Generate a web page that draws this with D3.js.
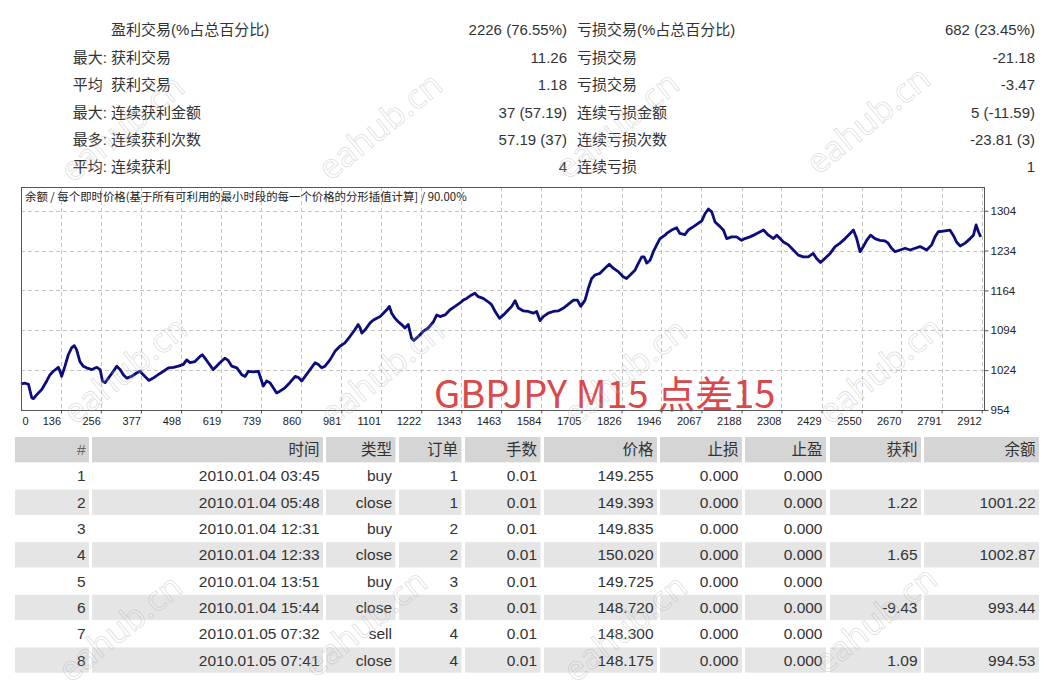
<!DOCTYPE html>
<html><head><meta charset="utf-8">
<script src="https://cdn.jsdelivr.net/npm/d3@7/dist/d3.min.js"></script>
<style>
html,body{margin:0;padding:0;background:#fff;}
svg{display:block;}
</style></head><body>
<svg id="c" width="1057" height="681"></svg>
<script>
// ---------------- data ----------------
const statPrefix    = ["", "最大:", "平均\u00a0", "最大:", "最多:", "平均:"];
const statWinLabel  = ["盈利交易(%占总百分比)", "获利交易", "获利交易", "连续获利金额", "连续获利次数", "连续获利"];
const statWinValue  = ["2226 (76.55%)", "11.26", "1.18", "37 (57.19)", "57.19 (37)", "4"];
const statLossLabel = ["亏损交易(%占总百分比)", "亏损交易", "亏损交易", "连续亏损金额", "连续亏损次数", "连续亏损"];
const statLossValue = ["682 (23.45%)", "-21.18", "-3.47", "5 (-11.59)", "-23.81 (3)", "1"];

const chartTitle = "余额 / 每个即时价格(基于所有可利用的最小时段的每一个价格的分形插值计算] / 90.00%";
const chartNote  = "GBPJPY M15 点差15";
const xTickLabels = [0,136,256,377,498,619,739,860,981,1101,1222,1343,1463,1584,1705,1826,1946,2067,2188,2308,2429,2550,2670,2791,2912];
const yTickLabels = [954,1024,1094,1164,1234,1304];
const xDomain = [15.4, 2918.8];
const yDomain = [954, 1345.6];

const tradeIndex = [15,28,38,43,48,53,63,78,93,103,113,128,133,138,148,158,168,176,183,193,203,213,229,244,254,261,269,279,294,304,314,324,334,349,364,374,384,394,401,414,429,445,460,475,490,505,515,525,540,555,562,570,580,595,605,615,630,640,651,666,681,691,701,716,731,741,746,756,766,776,786,796,811,826,842,852,862,872,887,902,912,922,932,947,962,977,
992,1007,1022,1032,1038,1043,1053,1068,1078,1088,1098,1108,1118,1126,1133,1143,1153,1163,1173,1183,1193,1200,1213,1228,1243,1259,1269,1279,1294,1309,1324,1339,1349,1359,1374,1384,1394,1409,1424,1434,1445,1458,1470,1485,1495,1505,1515,1530,1545,1560,1570,1580,1590,1605,1620,1635,1651,1666,1681,1693,1703,1716,1726,1736,1746,1761,1776,1789,1801,1816,1831,1841,1852,1867,1877,1887,1894,1902,1912,1922,1932,1942,1957,
1962,1977,1992,2002,2017,2027,2043,2058,2068,2078,2088,2098,2108,2123,2133,2143,2158,2173,2188,2198,2213,2228,2244,2254,2269,2284,2294,2304,2314,2329,2344,2359,2374,2389,2404,2414,2426,2439,2455,2470,2485,2500,2515,2525,2535,2545,2555,2565,2577,2590,2605,2620,2630,2640,2651,2666,2681,2696,2711,2726,2736,2746,2761,2771,2781,2796,2816,2826,2836,2847,2862,2877,2887,2895,2902,2909];
const balance = [1000,1001,999,987,975,974,981,990,1005,1016,1022,1029,1022,1013,1031,1051,1063,1067,1060,1039,1031,1028,1025,1029,1025,1005,1002,1010,1022,1031,1025,1016,1010,1013,1019,1022,1016,1010,1006,1010,1016,1022,1028,1029,1031,1034,1042,1037,1039,1048,1051,1045,1037,1025,1031,1037,1045,1041,1031,1028,1016,1013,1022,1021,1022,1005,996,1005,1002,993,984,987,993,1002,1013,1011,1005,1013,1025,1037,1034,1028,1031,1042,1057,1066,
1072,1083,1095,1104,1098,1089,1095,1107,1112,1115,1118,1124,1130,1136,1124,1115,1109,1104,1098,1104,1080,1076,1083,1092,1098,1109,1121,1118,1121,1130,1136,1142,1147,1150,1156,1159,1153,1150,1144,1139,1127,1115,1121,1130,1136,1146,1133,1128,1127,1124,1127,1111,1118,1124,1127,1128,1133,1140,1147,1147,1136,1147,1168,1185,1191,1194,1203,1210,1203,1197,1188,1185,1191,1200,1212,1223,1223,1212,1217,1232,1244,1255,1261,
1264,1270,1274,1264,1262,1270,1276,1282,1286,1299,1307,1302,1284,1276,1270,1255,1258,1258,1252,1255,1258,1262,1267,1270,1261,1255,1261,1255,1249,1244,1235,1226,1223,1223,1229,1220,1213,1220,1229,1241,1247,1255,1264,1270,1255,1232,1241,1252,1261,1255,1252,1251,1247,1238,1232,1235,1238,1235,1238,1241,1238,1235,1244,1258,1267,1268,1270,1261,1249,1242,1247,1255,1261,1279,1267,1258];

const tableHeaders = ["#","时间","类型","订单","手数","价格","止损","止盈","获利","余额"];
const rowNo      = ["1","2","3","4","5","6","7","8"];
const rowTime    = ["2010.01.04 03:45","2010.01.04 05:48","2010.01.04 12:31","2010.01.04 12:33","2010.01.04 13:51","2010.01.04 15:44","2010.01.05 07:32","2010.01.05 07:41"];
const rowType    = ["buy","close","buy","close","buy","close","sell","close"];
const rowOrder   = ["1","1","2","2","3","3","4","4"];
const rowLots    = ["0.01","0.01","0.01","0.01","0.01","0.01","0.01","0.01"];
const rowPrice   = ["149.255","149.393","149.835","150.020","149.725","148.720","148.300","148.175"];
const rowSL      = ["0.000","0.000","0.000","0.000","0.000","0.000","0.000","0.000"];
const rowTP      = ["0.000","0.000","0.000","0.000","0.000","0.000","0.000","0.000"];
const rowProfit  = ["","1.22","","1.65","","-9.43","","1.09"];
const rowBalance = ["","1001.22","","1002.87","","993.44","","994.53"];

const watermarkText = "eahub.cn";

// ---------------- drawing ----------------
const FONT = "'Liberation Sans','Noto Sans CJK SC',sans-serif";
const svg = d3.select("#c");
svg.append("rect").attr("width",1057).attr("height",681).attr("fill","#fff");

// top statistics block
const stats = d3.range(statPrefix.length).map(i => ({
  p: statPrefix[i], a: statWinLabel[i], b: statWinValue[i], c: statLossLabel[i], d: statLossValue[i]
}));
const rowY = d3.scaleLinear().domain([0, 5]).range([30, 167]);
const sg = svg.append("g").attr("font-family", FONT).attr("font-size", 15).attr("fill", "#333");
const sr = sg.selectAll("g").data(stats).join("g")
  .attr("transform", (d,i) => `translate(0,${rowY(i) + 5.3})`);
sr.append("text").attr("x", 107).attr("text-anchor","end").text(d => d.p);
sr.append("text").attr("x", 111).text(d => d.a);
sr.append("text").attr("x", 567).attr("text-anchor","end").text(d => d.b);
sr.append("text").attr("x", 577).text(d => d.c);
sr.append("text").attr("x", 1035).attr("text-anchor","end").text(d => d.d);

// chart
const P = {l:21, r:984, t:187, b:410};
const x = d3.scaleLinear().domain(xDomain).range([P.l, P.r]);
const y = d3.scaleLinear().domain(yDomain).range([P.b, P.t]);

const cg = svg.append("g");
// gridlines
cg.append("g").selectAll("line").data(xTickLabels.filter(v => x(v) > P.l + 1)).join("line")
  .attr("x1", d => Math.round(x(d)) + 0.5).attr("x2", d => Math.round(x(d)) + 0.5)
  .attr("y1", P.t).attr("y2", P.b)
  .attr("stroke", "#c4c4c4").attr("stroke-dasharray", "4,3");
cg.append("g").selectAll("line").data(yTickLabels.filter(v => y(v) < P.b - 1)).join("line")
  .attr("y1", d => Math.round(y(d)) + 0.5).attr("y2", d => Math.round(y(d)) + 0.5)
  .attr("x1", P.l).attr("x2", P.r)
  .attr("stroke", "#c4c4c4").attr("stroke-dasharray", "4,3");

// title inside the plot
cg.append("text").attr("x", P.l + 4).attr("y", P.t + 14)
  .attr("font-family", "'Noto Sans CJK SC',sans-serif").attr("font-size", 11.4)
  .attr("fill", "#222").text(chartTitle);

// red annotation
cg.append("text").attr("x", 434).attr("y", 407.5)
  .attr("font-family", "'Noto Sans CJK SC','Noto Sans',sans-serif").attr("font-size", 38)
  .attr("fill", "#d9484b").text(chartNote);

// balance line
const pts = tradeIndex.map((t, i) => [t, balance[i]]);
cg.append("path").datum(pts)
  .attr("fill", "none").attr("stroke", "#0c0c7c").attr("stroke-width", 2.8)
  .attr("stroke-linejoin", "round")
  .attr("d", d3.line().x(d => x(d[0])).y(d => y(d[1])));

// frame
cg.append("rect").attr("x", P.l + 0.5).attr("y", P.t + 0.5)
  .attr("width", P.r - P.l).attr("height", P.b - P.t)
  .attr("fill", "none").attr("stroke", "#555");

// bottom axis
const xa = cg.append("g").attr("transform", `translate(0,${P.b + 0.5})`)
  .call(d3.axisBottom(x).tickValues(xTickLabels).tickSize(3).tickSizeOuter(0).tickFormat(d3.format("d")));
xa.select(".domain").remove();
xa.selectAll(".tick line").attr("stroke", "#555");
xa.selectAll(".tick text").attr("font-family", FONT).attr("font-size", 11).attr("fill", "#222")
  .attr("text-anchor", "end").attr("x", -0.5).attr("y", 6.5);
xa.selectAll(".tick").filter(d => x(d) < P.l).each(function(d) {
  const g = d3.select(this);
  g.select("line").remove();
  g.select("text").attr("text-anchor", "start").attr("x", P.l + 1 - x(d));
});

// right axis
const ya = cg.append("g").attr("transform", `translate(${P.r + 0.5},0)`)
  .call(d3.axisRight(y).tickValues(yTickLabels).tickSize(4).tickSizeOuter(0).tickFormat(d3.format("d")));
ya.select(".domain").remove();
ya.selectAll(".tick line").attr("stroke", "#555");
ya.selectAll(".tick text").attr("font-family", FONT).attr("font-size", 11.5).attr("fill", "#222")
  .attr("x", 6);

// table
const cols = [[15,89],[92,323],[326,395.5],[399,461.5],[465,540.5],[544,657],[660,742],[745,826],[830,921],[924,1039]];
const rows = d3.range(rowNo.length).map(i => [rowNo[i], rowTime[i], rowType[i], rowOrder[i], rowLots[i], rowPrice[i], rowSL[i], rowTP[i], rowProfit[i], rowBalance[i]]);
const allRows = [tableHeaders].concat(rows);
const tY = d3.scaleLinear().domain([0, 1]).range([437, 463.3]);
const tg = svg.append("g").attr("font-family", FONT).attr("font-size", 15.5).attr("fill", "#333");
const tr = tg.selectAll("g").data(allRows).join("g")
  .attr("transform", (d,i) => `translate(0,${tY(i)})`);
tr.filter((d,i) => i === 0 || i % 2 === 0).selectAll("rect").data(cols).join("rect")
  .attr("x", c => c[0]).attr("width", c => c[1] - c[0]).attr("y", 0).attr("height", 25.3)
  .attr("fill", function() { return d3.select(this.parentNode).datum() === tableHeaders ? "#d5d5d5" : "#e5e5e5"; });
tr.selectAll("text").data(d => d.map((v, j) => ({v, j}))).join("text")
  .attr("x", d => cols[d.j][1] - 3.5).attr("y", 18.2)
  .attr("text-anchor", "end")
  .attr("fill", function(d) { return (d3.select(this.parentNode).datum() === tableHeaders && d.j === 0) ? "#666" : "#333"; })
  .text(d => d.v);

// watermarks
const wm = [[122,128],[380,126],[617,125],[868,120],[125,370],[382,372],[625,372],[880,370],[120,628],[365,623],[625,628],[875,620]];
svg.append("g").selectAll("text").data(wm).join("text")
  .attr("transform", d => `translate(${d[0]},${d[1]}) rotate(-39)`)
  .attr("text-anchor", "middle").attr("dy", "0.35em")
  .attr("font-family", "'Noto Sans',sans-serif").attr("font-size", 34)
  .attr("fill", "rgba(255,255,255,0.15)").attr("stroke", "rgba(140,140,140,0.28)").attr("stroke-width", 0.9)
  .text(watermarkText);
</script>
</body></html>
